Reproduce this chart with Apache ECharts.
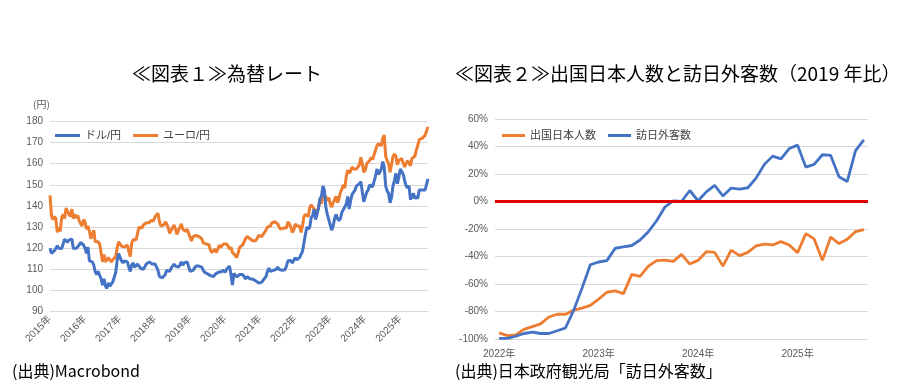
<!DOCTYPE html>
<html><head><meta charset="utf-8">
<script src="https://cdn.jsdelivr.net/npm/echarts@6/dist/echarts.min.js"></script>
<style>html,body{margin:0;padding:0;background:#fff}#c{width:915px;height:388px}</style>
</head><body><div id="c"></div>
<script>
// ---- Chart 1: FX rates (semi-monthly samples, 1st & 15th, Jan 2015 - Oct 2025)
const fxYears = [2015,2016,2017,2018,2019,2020,2021,2022,2023,2024,2025];
const fxLastMonth2025 = 10;
const fxYearLabels = ['2015年','2016年','2017年','2018年','2019年','2020年','2021年','2022年','2023年','2024年','2025年'];
const usdJpy = [
 120.0,117.5,117.5,118.8,119.8,121.2,120.0,119.3,119.8,120.5,124.2,123.5,122.8,123.9,124.3,124.3,119.8,120.3,119.9,119.0,121.5,122.7,123.0,121.5,
 120.0,117.5,120.5,114.0,113.5,113.5,112.0,108.8,107.5,109.0,109.5,105.5,102.5,105.5,102.0,101.0,103.5,102.0,101.5,104.0,104.5,108.5,114.0,117.5,
 117.5,114.0,113.0,114.0,114.5,113.5,111.0,109.0,112.0,113.0,111.0,110.5,112.5,113.0,110.5,110.0,110.0,110.5,112.5,112.0,113.5,113.0,112.5,112.5,
 112.5,111.0,109.5,106.5,106.0,106.0,106.5,107.5,109.5,110.0,109.0,110.5,110.5,112.5,111.5,111.0,111.0,112.0,113.5,112.0,113.0,113.0,113.5,113.0,
 109.0,108.5,109.5,110.5,111.5,111.5,111.5,111.8,111.0,109.5,108.5,108.2,107.8,108.0,107.0,106.5,106.5,107.5,108.0,108.5,108.5,108.8,109.0,109.5,
 108.5,110.0,109.5,111.5,107.5,102.5,108.0,107.5,106.5,107.0,107.5,107.0,107.5,106.5,105.5,106.5,106.0,105.5,105.5,105.3,104.5,104.5,104.0,103.5,
 103.2,103.8,104.8,105.5,106.5,109.0,110.5,109.0,109.0,109.5,109.5,110.0,111.0,110.0,109.5,109.5,110.0,109.8,111.5,114.0,114.0,114.2,113.0,113.8,
 115.5,114.5,115.0,115.5,115.0,118.5,122.5,126.5,130.0,129.0,130.0,134.5,135.5,138.5,133.5,133.5,139.0,143.5,144.5,149.5,147.5,139.5,136.0,135.5,
 131.0,128.5,130.5,134.0,136.0,134.0,133.0,134.0,137.0,136.5,139.5,141.0,144.5,138.5,142.5,145.5,146.0,147.5,149.5,149.5,150.5,151.5,146.5,142.0,
 142.0,146.5,147.5,150.0,150.0,149.0,151.5,154.0,157.5,155.0,156.0,157.5,161.0,158.5,149.5,147.0,146.0,141.5,144.0,149.5,152.0,155.5,150.5,153.5,
 157.5,157.5,155.0,152.0,149.5,148.5,149.5,143.0,143.5,146.0,143.5,144.5,143.5,147.5,147.0,147.5,147.5,147.5,147.0,152.8
];
const eurJpy = [
 145.0,135.5,133.5,135.0,134.0,127.5,129.5,128.0,134.5,136.0,134.0,139.0,137.5,136.0,135.0,138.5,134.0,136.0,134.5,135.5,133.0,131.5,130.5,133.5,
 132.5,129.0,130.5,128.0,124.5,126.5,128.5,123.0,123.0,123.0,122.0,118.0,113.5,117.0,113.5,114.0,115.5,114.5,113.5,114.5,115.0,116.0,120.0,123.0,
 122.5,121.0,121.0,120.5,120.5,121.5,118.5,116.0,122.5,124.0,124.0,124.0,127.0,130.0,130.5,129.5,131.0,131.0,132.0,132.5,132.0,133.0,133.5,133.0,
 135.0,135.5,136.5,132.5,130.5,131.0,131.0,132.5,131.5,129.5,127.0,128.5,128.5,131.0,129.0,126.5,128.5,130.0,131.5,129.0,128.5,128.0,129.0,128.5,
 125.0,123.5,125.5,125.0,126.0,126.0,125.5,126.0,124.5,122.5,122.0,122.0,122.5,121.5,119.0,118.0,117.5,119.5,118.0,119.5,121.5,120.5,120.5,122.0,
 121.5,122.0,121.0,119.5,120.5,118.0,118.5,116.5,115.5,118.0,120.5,121.0,121.5,122.0,124.5,125.5,125.5,124.5,124.0,123.5,123.0,123.5,124.0,126.0,
 126.5,125.5,126.0,127.5,128.5,130.0,129.5,130.5,132.0,132.5,132.5,132.0,131.5,130.0,129.0,129.0,129.5,129.0,129.5,132.5,131.5,130.0,127.5,128.5,
 131.5,130.5,130.5,130.5,127.5,130.5,135.0,136.0,135.5,135.0,139.5,140.5,139.5,138.5,136.5,137.0,139.0,143.5,141.0,144.5,145.5,144.0,142.5,144.0,
 141.0,139.5,141.5,143.0,144.5,141.5,143.5,146.5,148.0,150.0,148.5,154.0,157.0,155.5,156.5,158.5,157.5,157.5,157.5,157.0,159.5,163.0,160.0,156.0,
 157.0,160.0,160.5,161.5,163.0,162.0,164.0,164.5,168.5,169.5,169.0,168.5,172.0,173.5,163.5,161.5,160.0,156.0,159.5,163.5,164.5,163.5,159.5,161.5,
 162.0,162.5,160.5,158.5,158.0,161.5,162.0,159.0,162.5,162.5,163.5,166.5,168.5,171.5,172.0,172.0,172.5,173.5,173.0,177.5
];
const fxTicks = [90,180,10];

// ---- Chart 2: visitors vs 2019 (%), monthly Jan 2022 - Sep 2025
const tourYears = [2022,2023,2024,2025];
const tourLastMonth2025 = 9;
const tourYearLabels = ['2022年','2023年','2024年','2025年'];
const outbound = [-95.5,-97.5,-97,-93,-91,-89,-84,-82,-82,-79,-77.5,-75.5,
 -71,-66,-65,-67,-53,-54.5,-47,-43,-42.6,-43.5,-38.5,-45.5,
 -42.8,-36.5,-37,-47,-35.3,-39.4,-37,-32.3,-31,-31.6,-29.2,-31.6,
 -37.2,-23.4,-27.2,-42.8,-25.8,-30.6,-27.5,-21.9,-20.4];
const inbound = [-99.5,-99.5,-98,-96,-95,-96,-96,-94,-92,-79,-63,-46,
 -44,-43,-34,-33,-32,-28,-22,-14,-4,0.5,0,8,
 0.5,7,11.7,4,9.8,9,10,17,27,33,31,38.5,
 41,25,27,34,33.5,18,14.6,37,44.8];
const tourTicks = [-100,60,20];

// categories
const fxDates = [];
fxYears.forEach(y => { for (let m = 1; m <= 12; m++) { if (y === 2025 && m > fxLastMonth2025) break; [1,15].forEach(d => fxDates.push(y + '-' + String(m).padStart(2,'0') + '-' + String(d).padStart(2,'0'))); } });
const tourMonths = [];
tourYears.forEach(y => { for (let m = 1; m <= 12; m++) { if (y === 2025 && m > tourLastMonth2025) break; tourMonths.push(y + '-' + String(m).padStart(2,'0')); } });

const FONT = '"Liberation Sans", Arial, "Noto Sans CJK JP", sans-serif';
const JFONT = '"Noto Sans CJK JP", sans-serif';
const axisTxt = {fontSize:10, color:'#595959', fontFamily: FONT};
const grid = '#d9d9d9';

const chart = echarts.init(document.getElementById('c'), null, {renderer:'canvas'});
chart.setOption({
  animation:false,
  textStyle:{fontFamily:FONT},
  graphic:[
    {type:'text', left:132, top:64, style:{text:'≪図表１≫為替レート', font:'19px ' + JFONT, fill:'#000'}},
    {type:'text', left:455, top:64, style:{text:'≪図表２≫出国日本人数と訪日外客数（2019 年比）', font:'19px ' + JFONT, fill:'#000'}},
    {type:'text', left:12, top:363, style:{text:'(出典)Macrobond', font:'16px ' + JFONT, fill:'#000'}},
    {type:'text', left:455, top:363, style:{text:'(出典)日本政府観光局「訪日外客数」', font:'16px ' + JFONT, fill:'#000'}},
    {type:'text', left:33, top:99, style:{text:'(円)', font:'10px ' + JFONT, fill:'#595959'}}
  ],
  legend:[
    {left:50, top:125, icon:'rect', itemWidth:25, itemHeight:3, itemGap:12, textStyle:{fontSize:11, color:'#404040', fontFamily:FONT},
     data:['ドル/円','ユーロ/円']},
    {left:497, top:125, icon:'rect', itemWidth:23, itemHeight:3, itemGap:12, textStyle:{fontSize:11, color:'#404040', fontFamily:FONT},
     data:['出国日本人数','訪日外客数']}
  ],
  grid:[
    {left:50, top:121.5, width:378, height:190},
    {left:495, top:119, width:373, height:220}
  ],
  xAxis:[
    {type:'category', gridIndex:0, data:fxDates, boundaryGap:false,
     axisLine:{lineStyle:{color:grid}}, axisTick:{show:false}, splitLine:{show:false},
     axisLabel:Object.assign({}, axisTxt, {rotate:45, margin:6, interval:(i)=> i % 24 === 0,
       formatter:(v)=> fxYearLabels[fxYears.indexOf(+v.slice(0,4))]})},
    {type:'category', gridIndex:1, data:tourMonths, boundaryGap:true,
     axisLine:{lineStyle:{color:grid}}, axisTick:{show:false}, splitLine:{show:false},
     axisLabel:Object.assign({}, axisTxt, {margin:10, interval:(i)=> i % 12 === 0,
       formatter:(v)=> tourYearLabels[tourYears.indexOf(+v.slice(0,4))]})}
  ],
  yAxis:[
    {type:'value', gridIndex:0, min:fxTicks[0], max:fxTicks[1], interval:fxTicks[2],
     axisLine:{show:false}, axisTick:{show:false}, splitLine:{lineStyle:{color:grid}},
     axisLabel:Object.assign({}, axisTxt, {margin:7})},
    {type:'value', gridIndex:1, min:tourTicks[0], max:tourTicks[1], interval:tourTicks[2],
     axisLine:{show:false}, axisTick:{show:false}, splitLine:{lineStyle:{color:grid}},
     axisLabel:Object.assign({}, axisTxt, {margin:7, formatter:'{value}%'})}
  ],
  series:[
    {name:'ユーロ/円', type:'line', xAxisIndex:0, yAxisIndex:0, data:eurJpy, symbol:'none',
     color:'#ED7D31', lineStyle:{width:3, color:'#ED7D31'}},
    {name:'ドル/円', type:'line', xAxisIndex:0, yAxisIndex:0, data:usdJpy, symbol:'none',
     color:'#4472C4', lineStyle:{width:3, color:'#4472C4'}},
    {name:'出国日本人数', type:'line', xAxisIndex:1, yAxisIndex:1, data:outbound, symbol:'none',
     color:'#ED7D31', lineStyle:{width:2.8, color:'#ED7D31'}},
    {name:'訪日外客数', type:'line', xAxisIndex:1, yAxisIndex:1, data:inbound, symbol:'none',
     color:'#4472C4', lineStyle:{width:2.8, color:'#4472C4'},
     markLine:{silent:true, symbol:'none', label:{show:false}, lineStyle:{color:'#E00000', width:3, type:'solid'},
       data:[{yAxis:0}]}}
  ]
});
</script></body></html>
